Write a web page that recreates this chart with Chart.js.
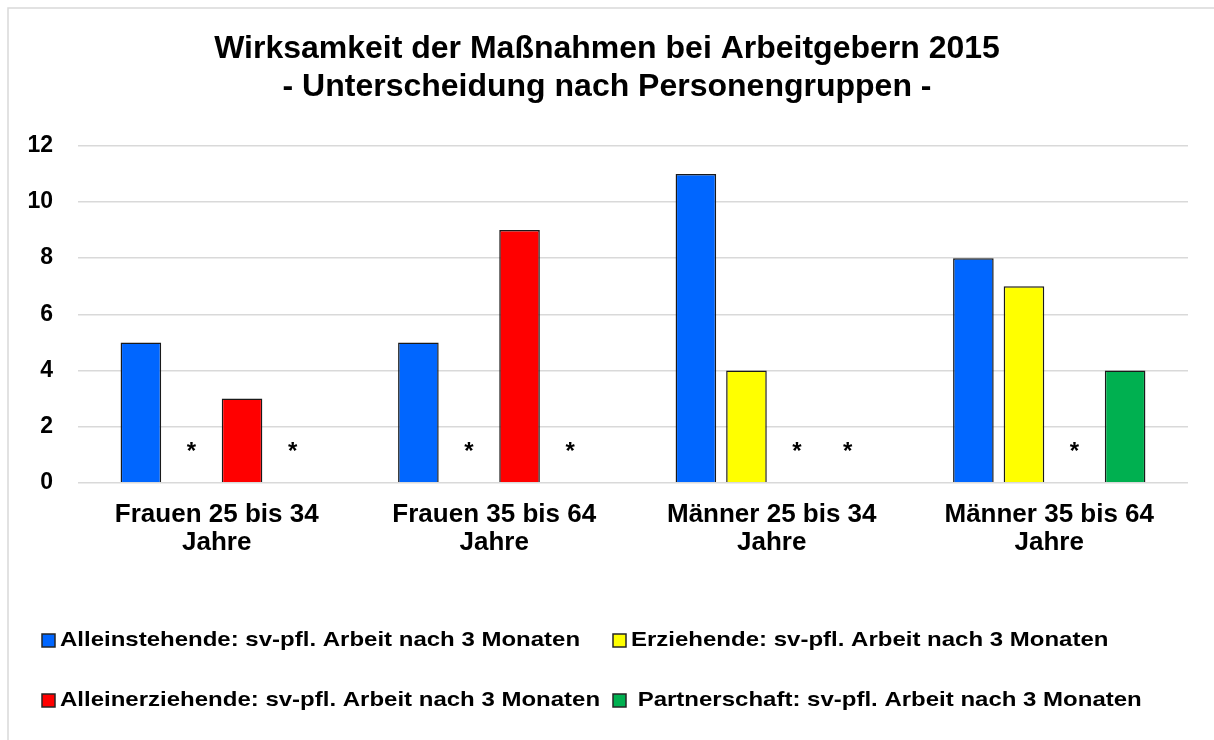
<!DOCTYPE html>
<html lang="de">
<head>
<meta charset="utf-8">
<title>Wirksamkeit der Maßnahmen bei Arbeitgebern 2015</title>
<script src="https://cdn.jsdelivr.net/npm/chart.js@4.4.1/dist/chart.umd.min.js"></script>
<style>
    html, body { margin: 0; padding: 0; background: #fff; }
    #wrap { position: relative; width: 1214px; height: 740px; }
</style>
</head>
<body>
<div id="wrap"><canvas id="chart" width="1214" height="740"></canvas></div>
<script>
// -----------------------------
// Data
// -----------------------------
const categories = [
    ['Frauen 25 bis 34', 'Jahre'],
    ['Frauen 35 bis 64', 'Jahre'],
    ['Männer 25 bis 34', 'Jahre'],
    ['Männer 35 bis 64', 'Jahre']
];
const seriesNames = [
    'Alleinstehende: sv-pfl. Arbeit nach 3 Monaten',
    'Erziehende: sv-pfl. Arbeit nach 3 Monaten',
    'Alleinerziehende: sv-pfl. Arbeit nach 3 Monaten',
    ' Partnerschaft: sv-pfl. Arbeit nach 3 Monaten'
];
// null = zu geringe Fallzahl, im Diagramm mit * markiert
const alleinstehende   = [5, 5, 11, 8];
const erziehende       = [null, null, 4, 7];
const alleinerziehende = [3, 9, null, null];
const partnerschaft    = [null, null, null, 4];
const yTicks = [0, 2, 4, 6, 8, 10, 12];

const seriesColors = ['#0066ff', '#ffff00', '#ff0000', '#00b050'];
const FONT = "'Liberation Sans', Arial, sans-serif";

// -----------------------------
// Plugins
// -----------------------------
// light frame like the office chart area
const frame = {
    id: 'frame',
    beforeDraw(chart) {
        const { ctx } = chart;
        ctx.save();
        ctx.fillStyle = '#fff';
        ctx.fillRect(0, 0, chart.width, chart.height);
        ctx.strokeStyle = '#d9d9d9';
        ctx.lineWidth = 1.5;
        ctx.beginPath();
        ctx.moveTo(8, chart.height);
        ctx.lineTo(8, 8);
        ctx.lineTo(chart.width, 8);
        ctx.stroke();
        ctx.restore();
    }
};

// "*" for missing values, placed in the empty bar slot
const missingMarks = {
    id: 'missingMarks',
    afterDatasetsDraw(chart) {
        const { ctx } = chart;
        const y0 = chart.scales.y.getPixelForValue(0);
        ctx.save();
        ctx.fillStyle = '#000';
        ctx.font = 'bold 24px ' + FONT;
        ctx.textAlign = 'center';
        ctx.textBaseline = 'alphabetic';
        chart.data.datasets.forEach((ds, i) => {
            const meta = chart.getDatasetMeta(i);
            ds.data.forEach((v, j) => {
                if (v !== null) return;
                const bar = meta.data[j];
                if (!bar || isNaN(bar.x)) return;
                ctx.fillText('*', bar.x, y0 - 24);
            });
        });
        ctx.restore();
    }
};

// two-column legend below the axis
const legendGrid = {
    id: 'legendGrid',
    afterDraw(chart) {
        const { ctx } = chart;
        const cols = [42, 613];
        const rows = [chart.height - 99.5, chart.height - 39.5];
        chart.data.datasets.forEach((ds, i) => {
            const x = cols[i % 2];
            const y = rows[Math.floor(i / 2)];
            ctx.save();
            ctx.fillStyle = ds.backgroundColor;
            ctx.fillRect(x, y - 6.5, 13, 13);
            ctx.strokeStyle = '#262626';
            ctx.lineWidth = 1.5;
            ctx.strokeRect(x, y - 6.5, 13, 13);
            ctx.translate(x + 18, y);
            ctx.scale(1, 0.82);
            ctx.fillStyle = '#000';
            ctx.font = 'bold 24px ' + FONT;
            ctx.textBaseline = 'middle';
            ctx.fillText(ds.label, 0, 0);
            ctx.restore();
        });
    }
};

// -----------------------------
// Chart
// -----------------------------
const values = [alleinstehende, erziehende, alleinerziehende, partnerschaft];

new Chart(document.getElementById('chart'), {
    type: 'bar',
    data: {
        labels: categories,
        datasets: values.map((data, i) => ({
            label: seriesNames[i],
            data: data,
            backgroundColor: seriesColors[i],
            borderColor: '#1a1a1a',
            borderWidth: 1.5,
            categoryPercentage: 0.729,
            barPercentage: 0.803
        }))
    },
    options: {
        responsive: false,
        animation: false,
        layout: { padding: { left: 26, right: 26, top: 0, bottom: 174 } },
        plugins: {
            legend: { display: false },
            tooltip: { enabled: false },
            title: {
                display: true,
                text: ['Wirksamkeit der Maßnahmen bei Arbeitgebern 2015', '- Unterscheidung nach Personengruppen -'],
                color: '#000',
                font: { family: FONT, size: 32, weight: 'bold', lineHeight: 1.2 },
                padding: { top: 30, bottom: 39 }
            }
        },
        scales: {
            x: {
                grid: { display: false },
                border: { display: false },
                ticks: {
                    color: '#000',
                    padding: 9.5,
                    maxRotation: 0,
                    font: { family: FONT, size: 26, weight: 'bold', lineHeight: 1.08 }
                }
            },
            y: {
                min: 0,
                max: 12,
                afterBuildTicks(axis) {
                    axis.ticks = yTicks.map(v => ({ value: v }));
                },
                // fixed axis width so the plot starts where the original does
                afterFit(axis) {
                    axis.width = 52;
                },
                grid: { color: '#d9d9d9', lineWidth: 1.5, drawTicks: false },
                border: { display: false },
                ticks: {
                    color: '#000',
                    padding: 25,
                    font: { family: FONT, size: 23, weight: 'bold' }
                }
            }
        }
    },
    plugins: [frame, missingMarks, legendGrid]
});
</script>
</body>
</html>
